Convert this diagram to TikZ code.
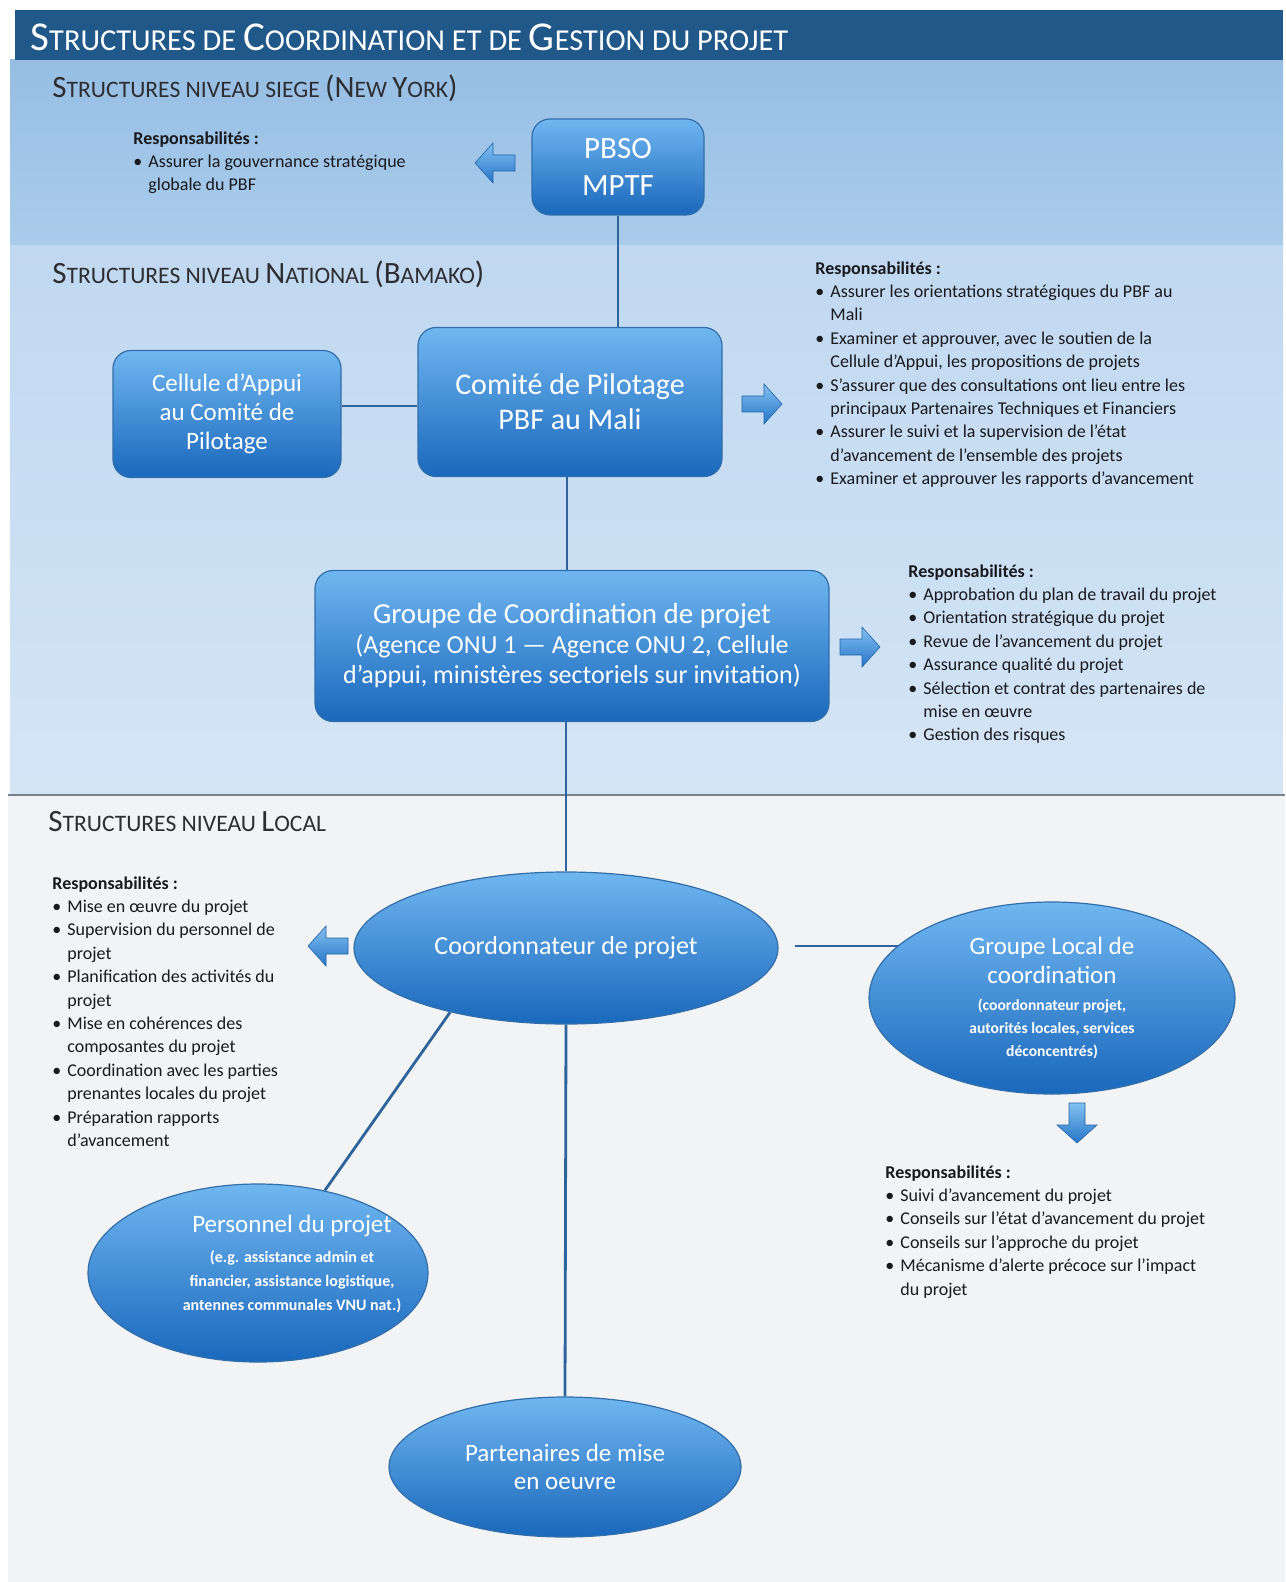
\documentclass[tikz,border=0pt]{standalone}
\usepackage{fontspec}
\setmainfont{Carlito}
\usetikzlibrary{shapes.geometric,calc}
\pgfdeclarelayer{bgl}
\pgfdeclarelayer{lnl}
\pgfsetlayers{bgl,lnl,main}
\definecolor{titlebar}{RGB}{33,88,138}
\definecolor{siegeA}{RGB}{150,190,227}
\definecolor{siegeB}{RGB}{170,204,235}
\definecolor{natA}{RGB}{192,216,240}
\definecolor{natB}{RGB}{212,229,246}
\definecolor{localbg}{RGB}{242,243,245}
\definecolor{nodetop}{RGB}{112,182,240}
\definecolor{nodebot}{RGB}{26,104,188}
\definecolor{nodeedge}{RGB}{50,110,170}
\definecolor{connc}{RGB}{45,100,155}
\definecolor{headtxt}{RGB}{45,45,50}
\definecolor{resptxt}{RGB}{25,25,30}
\definecolor{arrtop}{RGB}{130,192,240}
\definecolor{arrbot}{RGB}{40,118,200}
\definecolor{sepc}{RGB}{120,128,138}
\newcommand\ttb{\fontsize{20.5}{20.5}\selectfont}
\newcommand\tts{\fontsize{15.2}{15.2}\selectfont}
\newcommand\hdb{\fontsize{15.5}{15.5}\selectfont}
\newcommand\hds{\fontsize{11.8}{11.8}\selectfont}
\newcommand\bul{\makebox[7.5pt][l]{•}}
\newcommand\cnt{\hspace*{7.5pt}}
\begin{document}
\begin{tikzpicture}[x=0.5pt,y=-0.5pt,
  boxnode/.style={rounded corners=9pt, top color=nodetop, bottom color=nodebot,
    draw=nodeedge, line width=0.6pt, text=white, align=center},
  ellnode/.style={ellipse, top color=nodetop, bottom color=nodebot,
    draw=nodeedge, line width=0.6pt, text=white, align=center, inner sep=-6pt},
  connline/.style={draw=connc, line width=1.4pt},
  resp/.style={anchor=north west, align=left, inner sep=0pt, text=resptxt,
    font=\fontsize{9}{11.7}\selectfont},
  heading/.style={anchor=west, inner sep=0pt, text=headtxt},
  barrow/.pic={\shadedraw[top color=arrtop, bottom color=arrbot, draw=arrbot!85!black, line width=0.3pt]
    (-20,-8) -- (2,-8) -- (2,-20) -- (20,0) -- (2,20) -- (2,8) -- (-20,8) -- cycle;}
]
\useasboundingbox (0,0) rectangle (1285,1582);
\begin{pgfonlayer}{bgl}
  \fill[white] (0,0) rectangle (1285,1582);
  \fill[localbg] (8,795) rectangle (1285,1582);
  \shade[top color=natA, bottom color=natB] (10,245) rectangle (1283,795);
  \shade[top color=siegeA, bottom color=siegeB] (10,60) rectangle (1283,245);
  \fill[titlebar] (15,10) rectangle (1283,60);
  \draw[sepc, line width=0.8pt] (8,795) -- (1285,795);
\end{pgfonlayer}

% headings
\node[heading, text=white] (title) at (30,37)
  {{\ttb S}{\tts TRUCTURES DE }{\ttb C}{\tts OORDINATION ET DE }{\ttb G}{\tts ESTION DU PROJET}};
\node[heading] (hsiege) at (52,88)
  {{\hdb S}{\hds TRUCTURES NIVEAU SIEGE }{\hdb (N}{\hds EW }{\hdb Y}{\hds ORK}{\hdb )}};
\node[heading] (hnat) at (52,274)
  {{\hdb S}{\hds TRUCTURES NIVEAU }{\hdb N}{\hds ATIONAL }{\hdb (B}{\hds AMAKO}{\hdb )}};
\node[heading] (hloc) at (48,822)
  {{\hdb S}{\hds TRUCTURES NIVEAU }{\hdb L}{\hds OCAL}};

% boxes
\node[boxnode, minimum width=86pt, minimum height=48pt, font=\fontsize{15.5}{18.5}\selectfont]
  (pbso) at (618,167) {PBSO\\MPTF};
\node[boxnode, minimum width=152pt, minimum height=74.5pt, font=\fontsize{15}{17.5}\selectfont]
  (comite) at (570,402) {Comité de Pilotage\\PBF au Mali};
\node[boxnode, minimum width=114pt, minimum height=63.5pt, font=\fontsize{12.5}{14.5}\selectfont]
  (cellule) at (227,414) {Cellule d'Appui\\au Comité de\\Pilotage};
\node[boxnode, minimum width=257pt, minimum height=75.5pt, font=\fontsize{13}{15}\selectfont]
  (groupe) at (572,646) {{\fontsize{14.5}{15}\selectfont Groupe de Coordination de projet}\\(Agence ONU 1 — Agence ONU 2, Cellule\\d'appui, ministères sectoriels sur invitation)};

% ellipses
\node[ellnode, minimum width=212pt, minimum height=76pt, font=\fontsize{13}{15}\selectfont]
  (coord) at (566,948) {Coordonnateur de projet};
\node[ellnode, minimum width=183pt, minimum height=96pt, font=\fontsize{12.5}{14.5}\selectfont]
  (glocal) at (1052,998) {Groupe Local de\\coordination\\[-1pt]{\fontsize{7.8}{10.5}\selectfont\bfseries (coordonnateur projet,}\\[-3pt]{\fontsize{7.8}{10.5}\selectfont\bfseries autorités locales, services}\\[-3pt]{\fontsize{7.8}{10.5}\selectfont\bfseries déconcentrés)}};
\node[ellnode, minimum width=170pt, minimum height=89pt] (perso) at (258,1273) {};
\node[align=center, text=white, inner sep=0pt, font=\fontsize{12.5}{14}\selectfont]
  (persotxt) at (292,1264) {Personnel du projet\\[1pt]{\fontsize{8}{11}\selectfont\bfseries (e.g. assistance admin et}\\[-2pt]{\fontsize{8}{11}\selectfont\bfseries financier, assistance logistique,}\\[-2pt]{\fontsize{8}{11}\selectfont\bfseries antennes communales VNU nat.)}};
\node[ellnode, minimum width=176pt, minimum height=70pt, font=\fontsize{12.5}{14}\selectfont]
  (parten) at (565,1467) {Partenaires de mise\\en oeuvre};

% connectors
\begin{pgfonlayer}{lnl}
  \draw[connline] (pbso.south) -- (pbso.south |- comite.north);
  \draw[connline] (comite.west |- 0,406) -- (cellule.east |- 0,406);
  \draw[connline] (comite.south -| 567,0) -- (groupe.north -| 567,0);
  \draw[connline] (groupe.south -| coord.north) -- (coord.north);
  \draw[connline] (coord.south) -- (parten.north);
  \draw[connline] ([xshift=8pt,yshift=1pt]coord.east) -- (glocal.center |- 0,946);
  \draw[connline] (coord.209) -- (perso.51);
\end{pgfonlayer}

% block arrows
\pic (a1) at (495,163) [rotate=180] {barrow};
\pic (a2) at (762,404) {barrow};
\pic (a3) at (860,647) {barrow};
\pic (a4) at (328,946) [rotate=180] {barrow};
\pic (a5) at (1077,1123) [rotate=-90] {barrow};

% responsibilities
\node[resp] (r1) at (133,131) {\textbf{Responsabilités :}\\
\bul Assurer la gouvernance stratégique\\
\cnt globale du PBF};
\node[resp] (r2) at (815,261) {\textbf{Responsabilités :}\\
\bul Assurer les orientations stratégiques du PBF au\\
\cnt Mali\\
\bul Examiner et approuver, avec le soutien de la\\
\cnt Cellule d'Appui, les propositions de projets\\
\bul S'assurer que des consultations ont lieu entre les\\
\cnt principaux Partenaires Techniques et Financiers\\
\bul Assurer le suivi et la supervision de l'état\\
\cnt d'avancement de l'ensemble des projets\\
\bul Examiner et approuver les rapports d'avancement};
\node[resp] (r3) at (908,564) {\textbf{Responsabilités :}\\
\bul Approbation du plan de travail du projet\\
\bul Orientation stratégique du projet\\
\bul Revue de l'avancement du projet\\
\bul Assurance qualité du projet\\
\bul Sélection et contrat des partenaires de\\
\cnt mise en œuvre\\
\bul Gestion des risques};
\node[resp] (r4) at (52,876) {\textbf{Responsabilités :}\\
\bul Mise en œuvre du projet\\
\bul Supervision du personnel de\\
\cnt projet\\
\bul Planification des activités du\\
\cnt projet\\
\bul Mise en cohérences des\\
\cnt composantes du projet\\
\bul Coordination avec les parties\\
\cnt prenantes locales du projet\\
\bul Préparation rapports\\
\cnt d'avancement};
\node[resp] (r5) at (885,1165) {\textbf{Responsabilités :}\\
\bul Suivi d'avancement du projet\\
\bul Conseils sur l'état d'avancement du projet\\
\bul Conseils sur l'approche du projet\\
\bul Mécanisme d'alerte précoce sur l'impact\\
\cnt du projet};
\end{tikzpicture}
\end{document}
